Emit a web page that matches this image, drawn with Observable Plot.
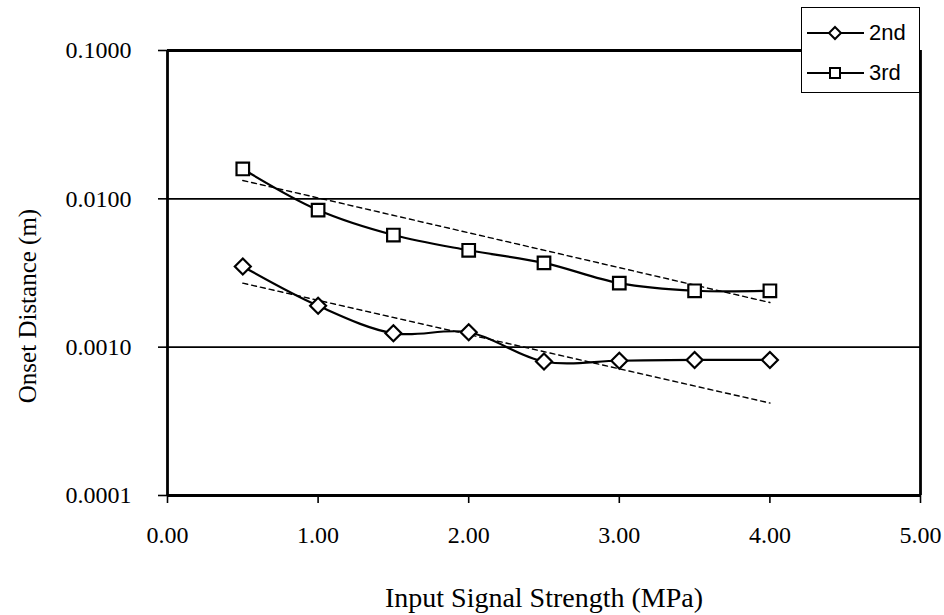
<!DOCTYPE html>
<html>
<head>
<meta charset="utf-8">
<script src="https://cdn.jsdelivr.net/npm/d3@7"></script>
<script src="https://cdn.jsdelivr.net/npm/@observablehq/plot@0.6"></script>
<style>
  html, body { margin: 0; padding: 0; background: white; }
  #wrap { position: relative; width: 944px; height: 615px; overflow: hidden; }
  #legend {
    position: absolute; left: 801px; top: 7px; width: 119px; height: 86px;
    background: white; border: 1.5px solid black; box-sizing: border-box;
    font-family: "Liberation Sans", Arial, sans-serif; font-size: 22px; color: black;
  }
  .row { position: absolute; left: 5px; height: 30px; display: flex; align-items: center; }
  .row svg { display: block; }
  .row span { margin-left: 5px; }
</style>
</head>
<body>
<div id="wrap">
  <div id="chart"></div>
  <div id="legend">
    <div class="row" style="top:10px">
      <svg width="57" height="20"><line x1="0" y1="10" x2="57" y2="10" stroke="black" stroke-width="2"/><path d="M28,4 L34,10 L28,16 L22,10 Z" fill="white" stroke="black" stroke-width="2"/></svg>
      <span>2nd</span>
    </div>
    <div class="row" style="top:50px">
      <svg width="57" height="20"><line x1="0" y1="10" x2="57" y2="10" stroke="black" stroke-width="2"/><rect x="23" y="5" width="10" height="10" fill="white" stroke="black" stroke-width="2"/></svg>
      <span>3rd</span>
    </div>
  </div>
</div>
<script>
// Data
const xs = [0.5, 1.0, 1.5, 2.0, 2.5, 3.0, 3.5, 4.0];
const second = [0.0035, 0.0019, 0.00124, 0.00126, 0.00080, 0.00081, 0.00082, 0.00082];
const third = [0.0159, 0.0084, 0.0057, 0.0045, 0.0037, 0.0027, 0.0024, 0.0024];
const trendX = [0.5, 4.0];
const trend2 = [0.0027, 0.00042];
const trend3 = [0.0133, 0.0020];
const xTicks = [0, 1, 2, 3, 4, 5];
const yTicks = [0.0001, 0.001, 0.01, 0.1];
const gridY = [0.001, 0.01];
const xTitle = "Input Signal Strength (MPa)";
const yTitle = "Onset Distance (m)";

const s2 = xs.map((x, i) => ({x, y: second[i]}));
const s3 = xs.map((x, i) => ({x, y: third[i]}));
const t2 = trendX.map((x, i) => ({x, y: trend2[i]}));
const t3 = trendX.map((x, i) => ({x, y: trend3[i]}));

const chart = Plot.plot({
  width: 944,
  height: 615,
  marginLeft: 167,
  marginRight: 24,
  marginTop: 50,
  marginBottom: 120,
  style: {fontFamily: "'Liberation Serif', 'Times New Roman', serif", fontSize: "24px", background: "white", color: "black"},
  x: {domain: [0, 5]},
  y: {type: "log", domain: [0.0001, 0.1]},
  marks: [
    Plot.ruleY(gridY, {stroke: "black", strokeWidth: 1.6}),
    Plot.ruleY([yTicks[0], yTicks[3]], {stroke: "black", strokeWidth: 2.8}),
    Plot.ruleX([xTicks[0], xTicks[5]], {stroke: "black", strokeWidth: 2.8}),
    Plot.axisY({ticks: yTicks, tickFormat: d3.format(".4f"), tickSize: 9, tickPadding: 27, label: null, strokeWidth: 1.6, fontSize: 24}),
    Plot.axisX({ticks: xTicks, tickFormat: d3.format(".2f"), tickSize: 8, tickPadding: 22, label: null, strokeWidth: 1.6, fontSize: 24}),
    Plot.line(t3, {x: "x", y: "y", stroke: "black", strokeWidth: 1.4, strokeDasharray: "5,4"}),
    Plot.line(t2, {x: "x", y: "y", stroke: "black", strokeWidth: 1.4, strokeDasharray: "5,4"}),
    Plot.line(s3, {x: "x", y: "y", curve: "catmull-rom", stroke: "black", strokeWidth: 2.2}),
    Plot.line(s2, {x: "x", y: "y", curve: "catmull-rom", stroke: "black", strokeWidth: 2.2}),
    Plot.dot(s3, {x: "x", y: "y", symbol: "square2", r: 8, fill: "white", stroke: "black", strokeWidth: 2.2}),
    Plot.dot(s2, {x: "x", y: "y", symbol: "diamond2", r: 7.2, fill: "white", stroke: "black", strokeWidth: 2.2}),
    Plot.text([yTitle], {frameAnchor: "left", textAnchor: "middle", lineAnchor: "middle", dx: -140, dy: 33, rotate: -90, text: d => d, fontSize: 25, fill: "black"}),
    Plot.text([xTitle], {frameAnchor: "bottom", textAnchor: "middle", lineAnchor: "middle", dy: 103, dx: 0, text: d => d, fontSize: 28, fill: "black"})
  ]
});
document.getElementById("chart").appendChild(chart);
</script>
</body>
</html>
